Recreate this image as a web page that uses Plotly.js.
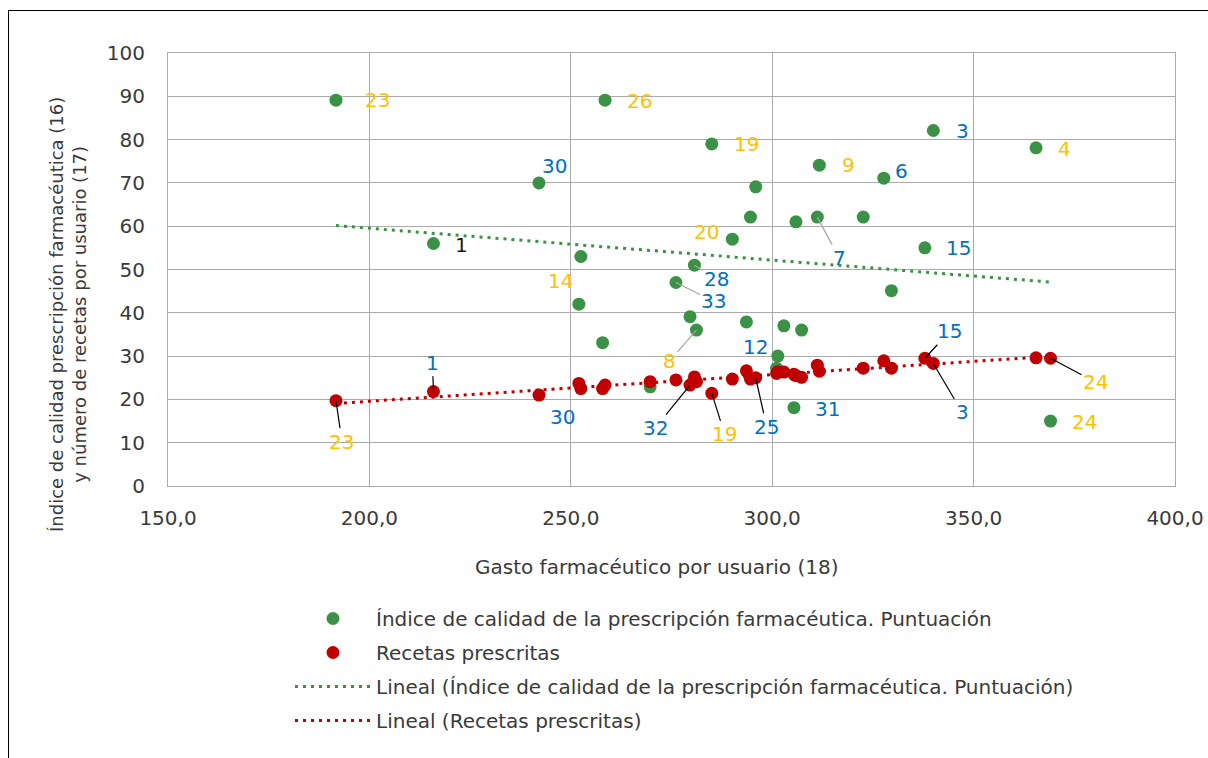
<!DOCTYPE html>
<html><head><meta charset="utf-8">
<script src="https://cdn.plot.ly/plotly-3.0.1.min.js"></script>
<style>
html,body{margin:0;padding:0;background:#fff;}
#chart{width:1208px;height:758px;}
#frame{position:absolute;left:8px;top:10px;width:1300px;height:800px;border-left:1.5px solid #000;border-top:1.5px solid #000;pointer-events:none;}
</style>
</head><body>
<div id="chart"></div><div id="frame"></div>
<script>
// ---------- DATA ----------
const gastoPorUsuario = [191.7, 215.9, 242.1, 252.5, 252.0, 257.9, 258.5, 269.7, 276.1, 279.6, 280.7, 281.2, 285.0, 290.1, 293.6, 294.6, 295.9, 301.4, 301.1, 302.9, 305.9, 305.4, 307.3, 311.2, 311.7, 322.6, 327.7, 329.6, 337.9, 340.0, 365.5, 369.1];
const indiceCalidad = [89.1, 56.0, 70.0, 53.0, 42.0, 33.1, 89.1, 22.9, 47.0, 39.1, 51.0, 36.0, 79.0, 57.0, 37.9, 62.1, 69.1, 30.0, 27.2, 37.0, 61.0, 18.1, 36.0, 62.1, 74.1, 62.1, 71.1, 45.1, 55.0, 82.1, 78.1, 15.0];
const recetasPrescritas = [19.7, 21.8, 21.0, 22.5, 23.7, 22.5, 23.3, 24.1, 24.5, 23.3, 25.2, 24.1, 21.4, 24.7, 26.6, 24.7, 25.0, 26.4, 26.0, 26.3, 25.5, 25.8, 25.1, 27.9, 26.5, 27.2, 28.9, 27.2, 29.5, 28.3, 29.6, 29.5];
// label text per point (area number), '' = no label
const etiquetasIndice = ['23','1','30','14','','','26','','33','','28','8','19','20','','','','12','','','','31','','7','9','','6','','15','3','4','24'];
const etiquetasRecetas = ['23','1','30','','','','','','','32','','','19','','','','25','','','','','','','','','','','','15','3','','24'];
const nombresSeries = ['Índice de calidad de la prescripción farmacéutica. Puntuación','Recetas prescritas','Lineal (Índice de calidad de la prescripción farmacéutica. Puntuación)','Lineal (Recetas prescritas)'];
const xTickVals = [150, 200, 250, 300, 350, 400];
const xTickText = ['150,0','200,0','250,0','300,0','350,0','400,0'];
const yTickVals = [0,10,20,30,40,50,60,70,80,90,100];
const tituloX = 'Gasto farmacéutico por usuario (18)';
const tituloY = 'Índice de calidad prescripción farmacéutica (16)<br>y número de recetas por usuario (17)';

// ---------- STYLE / PLACEMENT ----------
const FONT = 'DejaVu Sans, Liberation Sans, sans-serif';
const FS = 20;
const TXT = '#3a3a3a';
const GREEN = '#3B9145', RED = '#C00000';
const ORANGE = '#FFC000', BLUE = '#0070C0', BLACK = '#1a1a1a';
// label placement: [dx, dy (px, label centre relative to point), colour, leader]
const placeIndice = {
  0:[42,0,ORANGE,false], 1:[28,1,BLACK,false], 2:[16,-17,BLUE,false], 3:[-20,24,ORANGE,false],
  6:[34,1,ORANGE,false], 8:[38,19,BLUE,true], 10:[22,14,BLUE,true], 11:[-27,31,ORANGE,true],
  12:[35,0,ORANGE,false], 13:[-26,-7,ORANGE,false], 17:[-22,-9,BLUE,false], 21:[34,1,BLUE,false],
  23:[22,41,BLUE,true], 24:[29,0,ORANGE,false], 26:[18,-7,BLUE,false], 28:[34,0,BLUE,false],
  29:[29,0,BLUE,false], 30:[28,1,ORANGE,false], 31:[34,1,ORANGE,false]
};
const placeRecetas = {
  0:[6,41,ORANGE,true], 1:[-1,-29,BLUE,true], 2:[24,22,BLUE,false], 9:[-35,43,BLUE,true],
  12:[13,41,ORANGE,true], 16:[11,49,BLUE,true], 28:[25,-27,BLUE,true], 29:[29,49,BLUE,true],
  31:[45,24,ORANGE,true]
};

function linreg(xs, ys){
  const n = xs.length;
  const mx = xs.reduce((a,b)=>a+b,0)/n, my = ys.reduce((a,b)=>a+b,0)/n;
  let sxy=0, sxx=0;
  for(let i=0;i<n;i++){ sxy += (xs[i]-mx)*(ys[i]-my); sxx += (xs[i]-mx)**2; }
  const b = sxy/sxx, a = my - b*mx;
  const x0 = Math.min(...xs), x1 = Math.max(...xs);
  return {x:[x0,x1], y:[a+b*x0, a+b*x1]};
}
const tG = linreg(gastoPorUsuario, indiceCalidad);
const tR = linreg(gastoPorUsuario, recetasPrescritas);

const traces = [
  {type:'scatter', mode:'markers', x:gastoPorUsuario, y:indiceCalidad, name:nombresSeries[0],
   marker:{color:GREEN, size:13}, legendgroup:'a'},
  {type:'scatter', mode:'markers', x:gastoPorUsuario, y:recetasPrescritas, name:nombresSeries[1],
   marker:{color:RED, size:13}, legendgroup:'b'},
  {type:'scatter', mode:'lines', x:tG.x, y:tG.y, name:nombresSeries[2],
   line:{color:GREEN, width:3, dash:'3px,5px'}, legendgroup:'c'},
  {type:'scatter', mode:'lines', x:tR.x, y:tR.y, name:nombresSeries[3],
   line:{color:RED, width:3, dash:'3px,5px'}, legendgroup:'d'}
];

const annotations = [];
function addLabels(texts, ys, place, leaderColor){
  texts.forEach((t,i)=>{
    if(!t) return;
    const p = place[i] || [28,0,BLUE,false];
    const a = {x:gastoPorUsuario[i], y:ys[i], text:t, xref:'x', yref:'y',
      font:{family:FONT, size:FS, color:p[2]}};
    if(p[3]){
      Object.assign(a,{showarrow:true, ax:p[0], ay:p[1], arrowhead:0, arrowwidth:1.2,
        arrowcolor:leaderColor, standoff:0, startstandoff:0});
    } else {
      Object.assign(a,{showarrow:false, xshift:p[0], yshift:-p[1]});
    }
    annotations.push(a);
  });
}
addLabels(etiquetasIndice, indiceCalidad, placeIndice, '#A6A6A6');
addLabels(etiquetasRecetas, recetasPrescritas, placeRecetas, '#000000');

annotations.push({xref:'paper', yref:'paper', x:(656-168)/1007, y:(486-567)/433, xanchor:'center', yanchor:'middle',
  text:tituloX, showarrow:false, font:{family:FONT, size:FS, color:TXT}});
annotations.push({xref:'paper', yref:'paper', x:(68-168)/1007, y:(486-315)/433, xanchor:'center', yanchor:'middle',
  text:tituloY, showarrow:false, textangle:-90, font:{family:FONT, size:18, color:TXT}});

const layout = {
  width:1208, height:758,
  margin:{l:168, r:33, t:53, b:272},
  paper_bgcolor:'#fff', plot_bgcolor:'#fff',
  font:{family:FONT, size:FS, color:TXT},
  showlegend:true,
  legend:{x:(290-168)/1007, y:(486-599)/433, xanchor:'left', yanchor:'top',
    font:{family:FONT, size:FS, color:TXT}, itemwidth:76, tracegroupgap:5, bgcolor:'rgba(0,0,0,0)'},
  xaxis:{range:[150,400], tickvals:xTickVals, ticktext:xTickText, showgrid:true, gridcolor:'#ABABAB', gridwidth:1,
    zeroline:false, showline:true, linecolor:'#ABABAB', linewidth:1, mirror:true, ticks:'', ticklabelstandoff:14,
    tickfont:{family:FONT, size:FS, color:TXT}},
  yaxis:{range:[0,100], tickvals:yTickVals, showgrid:true, gridcolor:'#ABABAB', gridwidth:1,
    zeroline:false, showline:true, linecolor:'#ABABAB', linewidth:1, mirror:true, ticks:'', ticklabelstandoff:18,
    tickfont:{family:FONT, size:FS, color:TXT}},
  annotations: annotations
};
Plotly.newPlot('chart', traces, layout, {displayModeBar:false, staticPlot:true});
</script>
</body></html>
